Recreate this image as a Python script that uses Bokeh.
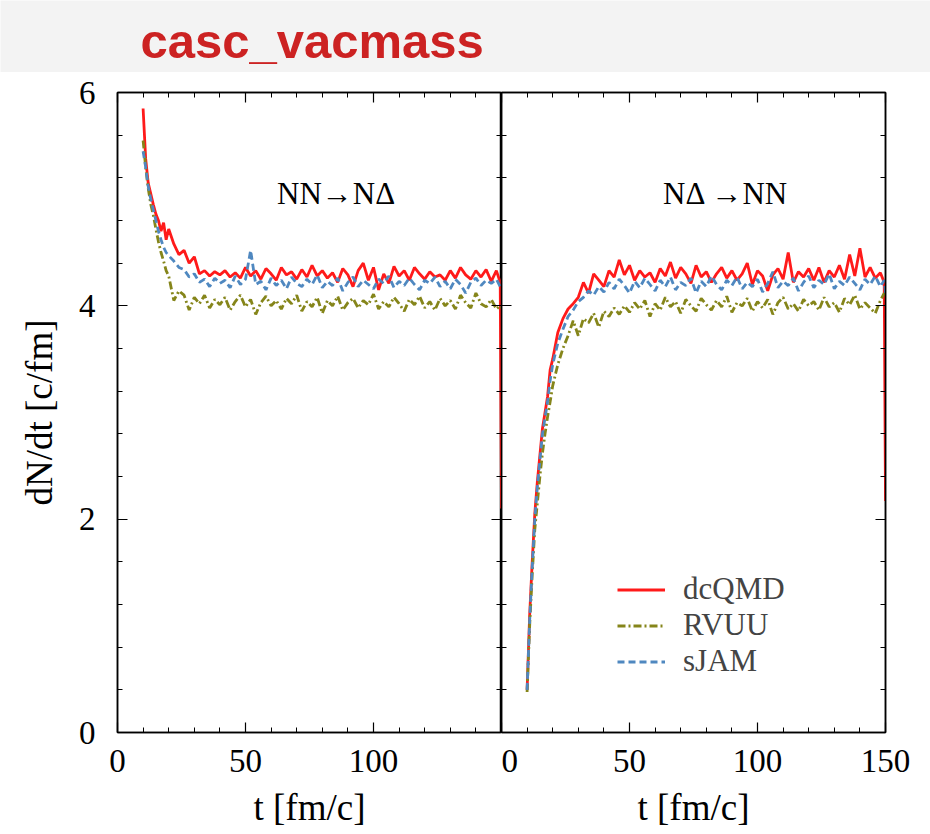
import numpy as np
from bokeh.plotting import figure
from bokeh.models import (Range1d, LinearAxis, FixedTicker, Label, Legend,
                          LegendItem, ColumnDataSource)
from bokeh.layouts import column, row
from bokeh.embed import file_html
from bokeh.resources import INLINE

# ---------------- data ----------------
# time grid [fm/c]: 1 fm/c steps early, 2 fm/c steps on the plateau, end points
t = list(range(10, 21)) + list(range(22, 149, 2)) + [149.5, 150]

# Left panel: NN -> N Delta
nnnd_dcqmd = ([5.85, 5.38, 5.15, 5.05, 4.95, 4.86, 4.80, 4.70, 4.78, 4.62, 4.72] +
              [4.58, 4.48, 4.52, 4.40, 4.46, 4.30, 4.33, 4.28, 4.32, 4.29,
               4.33, 4.27, 4.31, 4.26, 4.36, 4.28, 4.33, 4.25, 4.35, 4.30,
               4.24, 4.36, 4.29, 4.32, 4.25, 4.34, 4.27, 4.38, 4.28, 4.33,
               4.26, 4.31, 4.22, 4.35, 4.29, 4.18, 4.33, 4.40, 4.24, 4.36,
               4.15, 4.30, 4.21, 4.37, 4.28, 4.33, 4.24, 4.36, 4.30, 4.25,
               4.32, 4.27, 4.29, 4.24, 4.33, 4.26, 4.36, 4.29, 4.25, 4.33,
               4.27, 4.34, 4.23, 4.33] +
              [4.22, 2.10])
nnnd_rvuu = ([5.55, 5.30, 5.10, 4.95, 4.85, 4.72, 4.60, 4.50, 4.42, 4.33, 4.28] +
             [4.05, 4.14, 4.10, 3.96, 4.08, 4.02, 4.10, 3.98, 4.06, 4.01,
              4.08, 3.96, 4.04, 4.10, 3.99, 4.06, 3.92, 4.03, 4.09, 4.00,
              4.05, 3.97, 4.07, 4.02, 4.10, 3.95, 4.04, 3.99, 4.08, 3.93,
              4.05, 4.00, 4.09, 3.96, 4.03, 4.07, 3.98, 4.05, 4.01, 4.11,
              3.97, 4.04, 3.99, 4.08, 4.02, 3.95, 4.06, 4.01, 4.09, 3.98,
              4.04, 3.96, 4.07, 4.00, 4.05, 3.97, 4.10, 4.03, 3.98, 4.12,
              4.02, 3.99, 4.06, 3.97] +
             [4.00, 3.98])
nnnd_sjam = ([5.45, 5.30, 5.12, 5.00, 4.90, 4.80, 4.70, 4.62, 4.55, 4.50, 4.47] +
             [4.42, 4.36, 4.34, 4.27, 4.30, 4.22, 4.25, 4.18, 4.26, 4.21,
              4.24, 4.17, 4.28, 4.20, 4.25, 4.52, 4.20, 4.23, 4.15, 4.26,
              4.19, 4.24, 4.16, 4.27, 4.21, 4.18, 4.25, 4.20, 4.29, 4.17,
              4.23, 4.19, 4.26, 4.14, 4.22, 4.27, 4.18, 4.24, 4.20, 4.16,
              4.25, 4.21, 4.28, 4.17, 4.23, 4.19, 4.26, 4.20, 4.15, 4.24,
              4.21, 4.27, 4.18, 4.23, 4.16, 4.25, 4.20, 4.12, 4.22, 4.26,
              4.19, 4.24, 4.21, 4.25] +
             [4.18, 4.15])

# Right panel: N Delta -> NN
ndnn_dcqmd = ([0.40, 1.10, 1.60, 2.05, 2.35, 2.60, 2.85, 3.00, 3.15, 3.40, 3.50] +
              [3.75, 3.88, 3.97, 4.02, 4.08, 4.22, 4.12, 4.30, 4.24, 4.18,
               4.33, 4.27, 4.43, 4.29, 4.38, 4.24, 4.33, 4.27, 4.31, 4.22,
               4.35, 4.28, 4.41, 4.26, 4.36, 4.30, 4.21, 4.38, 4.27, 4.32,
               4.22, 4.30, 4.36, 4.26, 4.33, 4.24, 4.30, 4.40, 4.20, 4.33,
               4.28, 4.14, 4.29, 4.35, 4.25, 4.50, 4.22, 4.32, 4.27, 4.35,
               4.24, 4.36, 4.22, 4.33, 4.27, 4.38, 4.25, 4.48, 4.28, 4.54,
               4.27, 4.36, 4.26, 4.31] +
              [4.22, 2.17])
ndnn_rvuu = ([0.38, 1.00, 1.48, 1.90, 2.15, 2.40, 2.62, 2.80, 2.96, 3.10, 3.25] +
             [3.45, 3.60, 3.72, 3.86, 3.72, 3.88, 3.84, 3.93, 3.80, 3.95,
              3.90, 3.98, 3.92, 4.00, 3.94, 4.03, 3.97, 4.05, 3.90, 4.02,
              3.96, 4.08, 3.99, 4.04, 3.93, 4.06, 4.00, 3.95, 4.07, 4.01,
              3.96, 4.05, 3.99, 4.09, 3.94, 4.03, 4.00, 4.07, 3.95, 4.04,
              3.98, 4.06, 3.92, 4.03, 4.08, 3.97, 4.02, 3.95, 4.06, 4.00,
              4.04, 3.96, 4.08, 3.99, 4.03, 3.94, 4.07, 4.01, 4.10, 3.97,
              4.03, 3.98, 3.93, 4.05] +
             [4.12, 4.08])
ndnn_sjam = ([0.40, 1.05, 1.55, 2.00, 2.30, 2.55, 2.80, 2.95, 3.10, 3.30, 3.45] +
             [3.65, 3.78, 3.90, 3.96, 4.04, 4.08, 4.14, 4.10, 4.18, 4.13,
              4.22, 4.16, 4.25, 4.19, 4.12, 4.23, 4.17, 4.26, 4.20, 4.14,
              4.24, 4.18, 4.27, 4.15, 4.22, 4.19, 4.26, 4.12, 4.23, 4.18,
              4.28, 4.20, 4.15, 4.24, 4.19, 4.27, 4.16, 4.22, 4.18, 4.25,
              4.13, 4.21, 4.32, 4.17, 4.23, 4.19, 4.26, 4.14, 4.22, 4.28,
              4.17, 4.24, 4.20, 4.30, 4.16, 4.23, 4.19, 4.27, 4.21, 4.15,
              4.25, 4.20, 4.28, 4.18] +
             [4.24, 4.12])

x_major_left = [0, 50, 100]
x_major_right = [0, 50, 100, 150]
x_minor = [10, 20, 30, 40, 60, 70, 80, 90, 110, 120, 130, 140]
y_major = [0, 2, 4, 6]
y_minor = [0.4, 0.8, 1.2, 1.6, 2.4, 2.8, 3.2, 3.6, 4.4, 4.8, 5.2, 5.6]

series_names = ["dcQMD", "RVUU", "sJAM"]
colors = ["#ff1a1a", "#85851a", "#4f88c0"]
dashes = ["solid", "8 3 2 3", "7 4"]

SERIF = "'Liberation Serif', 'Times New Roman', serif"
TICK_FS = "33px"
LAB_FS = "37px"


def style_axis(ax, labels=True):
    ax.axis_line_color = "black"
    ax.axis_line_width = 1.5
    ax.major_tick_in = 10
    ax.major_tick_out = 0
    ax.minor_tick_in = 5
    ax.minor_tick_out = 0
    ax.major_tick_line_color = "black"
    ax.minor_tick_line_color = "black"
    ax.major_tick_line_width = 1.2
    ax.minor_tick_line_width = 1
    ax.major_label_text_font = SERIF
    ax.axis_label_text_font = SERIF
    ax.axis_label_text_font_style = "normal"
    ax.axis_label_text_font_size = LAB_FS
    ax.axis_label_text_color = "black"
    if labels:
        ax.major_label_text_font_size = TICK_FS
        ax.major_label_text_color = "black"
    else:
        # ticks only: labels are not painted and take (almost) no room
        ax.major_label_text_font_size = "1px"
        ax.major_label_text_color = None
        ax.major_label_standoff = 0


def make_panel(width, border_left, border_right, xticks, left_labels):
    p = figure(width=width, height=762,
               x_range=Range1d(0, 150), y_range=Range1d(0, 6),
               x_axis_location=None, y_axis_location=None,
               toolbar_location=None, output_backend="svg",
               min_border_left=border_left, min_border_right=border_right,
               min_border_top=20, min_border_bottom=102)
    p.xgrid.visible = False
    p.ygrid.visible = False
    p.outline_line_color = "black"
    p.outline_line_width = 1.5
    p.background_fill_color = "white"
    p.border_fill_color = "white"

    yt = FixedTicker(ticks=y_major, minor_ticks=y_minor)
    xt = FixedTicker(ticks=xticks, minor_ticks=x_minor)

    ly = LinearAxis(ticker=yt)
    style_axis(ly, labels=left_labels)
    if left_labels:
        ly.axis_label = "dN/dt [c/fm]"
        ly.major_label_standoff = 22
        ly.axis_label_standoff = 16
    p.add_layout(ly, "left")

    ry = LinearAxis(ticker=yt)
    style_axis(ry, labels=False)
    p.add_layout(ry, "right")

    bx = LinearAxis(ticker=xt, axis_label="t [fm/c]")
    style_axis(bx, labels=True)
    bx.major_label_standoff = 17
    bx.axis_label_standoff = 12
    p.add_layout(bx, "below")

    tx = LinearAxis(ticker=xt)
    style_axis(tx, labels=False)
    p.add_layout(tx, "above")
    return p


# ---------------- header ----------------
header = figure(width=930, height=72, x_range=Range1d(0, 1), y_range=Range1d(0, 1),
                x_axis_location=None, y_axis_location=None,
                toolbar_location=None, output_backend="svg", min_border=0)
header.xgrid.visible = False
header.ygrid.visible = False
header.outline_line_color = None
header.background_fill_color = "#f3f3f3"
header.border_fill_color = "#f3f3f3"
header.add_layout(Label(x=140, y=32, x_units="screen", y_units="screen",
                        text="casc_vacmass",
                        text_font="'Liberation Sans Narrow', 'Liberation Sans', Arial, sans-serif",
                        text_font_style="bold", text_font_size="49px",
                        text_baseline="alphabetic",
                        text_color="#cc2222"))

# ---------------- panels ----------------
p1 = make_panel(501, 117, 0, x_major_left, True)
p2 = make_panel(429, 0, 45, x_major_right, False)

src_l = ColumnDataSource(dict(t=t, dcQMD=nnnd_dcqmd, RVUU=nnnd_rvuu, sJAM=nnnd_sjam))
src_r = ColumnDataSource(dict(t=t, dcQMD=ndnn_dcqmd, RVUU=ndnn_rvuu, sJAM=ndnn_sjam))

for name, c, d in zip(series_names, colors, dashes):
    p1.line("t", name, source=src_l, line_color=c, line_width=2.8, line_dash=d)

rends = []
for name, c, d in zip(series_names, colors, dashes):
    r = p2.line("t", name, source=src_r, line_color=c, line_width=2.8, line_dash=d)
    rends.append(r)

p1.add_layout(Label(x=85.4, y=5.05, text="NN\u2192N\u0394", text_align="center",
                    text_baseline="alphabetic", text_font=SERIF, text_font_size="31px",
                    text_color="black"))
p2.add_layout(Label(x=87.7, y=5.05, text="N\u0394 \u2192NN", text_align="center",
                    text_baseline="alphabetic", text_font=SERIF, text_font_size="31px",
                    text_color="black"))

legend = Legend(items=[LegendItem(label=n, renderers=[r]) for n, r in zip(series_names, rends)],
                location=(116, 53), padding=0, margin=0, spacing=0,
                glyph_width=48, glyph_height=35, label_height=35, label_standoff=18,
                label_text_font=SERIF, label_text_font_size="31px",
                border_line_color=None, background_fill_alpha=0)
p2.add_layout(legend)

layout = column(header, row(p1, p2, spacing=0), spacing=0)

open("out.html", "w").write(file_html(layout, INLINE))
